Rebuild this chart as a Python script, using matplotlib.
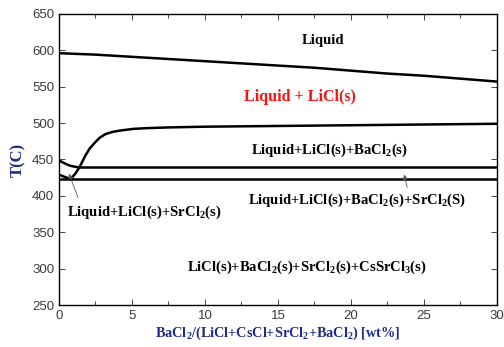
import matplotlib
matplotlib.use("Agg")
import matplotlib.pyplot as plt
from matplotlib.ticker import MultipleLocator

plt.rcParams['mathtext.fontset'] = 'custom'
plt.rcParams['mathtext.bf'] = 'Liberation Serif:bold'
plt.rcParams['mathtext.rm'] = 'Liberation Serif'
plt.rcParams['mathtext.it'] = 'Liberation Serif:italic'

# liquidus (upper boundary)
liq_x = [0, 2.5, 5, 7.5, 10, 12.5, 15, 17.5, 20, 22.5, 25, 27.5, 30]
liq_t = [596, 594, 591, 588, 585, 582, 579, 576, 572, 568, 565, 561, 557]

# rising boundary (Liquid+LiCl / Liquid+LiCl+BaCl2)
rise_x = [0.8, 1.1, 1.4, 1.8, 2.1, 2.5, 2.8, 3.2, 3.7, 4.3, 5.1, 6, 7.5, 10, 15, 20, 25, 30]
rise_t = [423, 430, 439, 455, 465, 474, 480, 485, 488, 490, 492, 493, 494, 495, 496, 497, 498, 499]

# left boundary from SrCl2 side
left_x = [0, 0.25, 0.5, 0.75, 1.0, 1.4]
left_t = [449, 446, 443.5, 441.5, 440.3, 439]

# short slant at the left below
slant_x = [0, 0.8]
slant_t = [429, 423]

# isotherms
iso_upper = 439
iso_upper_x = [1.4, 30]
iso_lower = 423
iso_lower_x = [0, 30]

label_color = '#1f2a8a'

fig = plt.figure(figsize=(5.04, 3.47), dpi=100)
ax = fig.add_axes([0.117, 0.121, 0.869, 0.839])

lw = 1.8
ax.plot(liq_x, liq_t, color='black', lw=lw)
ax.plot(rise_x, rise_t, color='black', lw=lw)
ax.plot(left_x, left_t, color='black', lw=lw)
ax.plot(slant_x, slant_t, color='black', lw=lw)
ax.plot(iso_upper_x, [iso_upper, iso_upper], color='black', lw=lw)
ax.plot(iso_lower_x, [iso_lower, iso_lower], color='black', lw=lw)

ax.set_xlim(0, 30)
ax.set_ylim(250, 650)
ax.xaxis.set_major_locator(MultipleLocator(5))
ax.xaxis.set_minor_locator(MultipleLocator(2.5))
ax.yaxis.set_major_locator(MultipleLocator(50))
ax.tick_params(which='both', direction='in', top=True, right=True,
               labelsize=9.5, labelcolor='#3a3a3a', width=0.7, color='#444444')
ax.tick_params(which='major', length=4)
ax.tick_params(which='minor', length=3)
for lab in ax.get_xticklabels() + ax.get_yticklabels():
    lab.set_family('Liberation Sans')
for s in ax.spines.values():
    s.set_linewidth(1.0)

serif = 'Liberation Serif'
fs = 10.5
ax.text(18.1, 614, 'Liquid', ha='center', va='center', fontsize=fs,
        fontweight='bold', family=serif)
ax.text(16.5, 536, 'Liquid + LiCl(s)', ha='center', va='center', fontsize=11.5,
        fontweight='bold', family=serif, color='#ff1010')
ax.text(18.5, 463, r'Liquid+LiCl(s)+BaCl$_\mathbf{2}$(s)', ha='center', va='center',
        fontsize=fs, fontweight='bold', family=serif)
ax.text(20.4, 394, r'Liquid+LiCl(s)+BaCl$_\mathbf{2}$(s)+SrCl$_\mathbf{2}$(S)', ha='center',
        va='center', fontsize=fs, fontweight='bold', family=serif)
ax.text(5.85, 378, r'Liquid+LiCl(s)+SrCl$_\mathbf{2}$(s)', ha='center', va='center',
        fontsize=fs, fontweight='bold', family=serif)
ax.text(17.0, 302, r'LiCl(s)+BaCl$_\mathbf{2}$(s)+SrCl$_\mathbf{2}$(s)+CsSrCl$_\mathbf{3}$(s)',
        ha='center', va='center', fontsize=fs, fontweight='bold', family=serif)

arrow = dict(arrowstyle='-|>', color='#555555', lw=0.6, mutation_scale=7)
ax.annotate('', xy=(0.62, 434), xytext=(1.37, 394), arrowprops=arrow)
ax.annotate('', xy=(23.6, 433), xytext=(23.9, 408), arrowprops=arrow)

ax.set_xlabel(r'BaCl$_\mathbf{2}$/(LiCl+CsCl+SrCl$_\mathbf{2}$+BaCl$_\mathbf{2}$) [wt%]',
              fontsize=10.3, fontweight='bold', family=serif, color=label_color, labelpad=2)
ax.set_ylabel('T(C)', fontsize=12, fontweight='bold', family=serif, color=label_color,
              labelpad=4)

fig.savefig('out.png', dpi=100)
